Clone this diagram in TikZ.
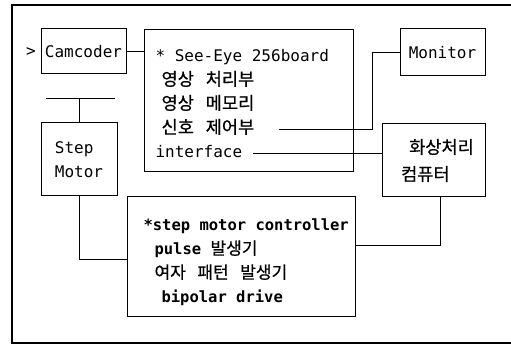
\documentclass[tikz,border=0pt]{standalone}
\usepackage{fontspec}
\setmainfont{DejaVu Sans Mono}
\newfontfamily\kr{Noto Sans CJK KR}[Scale=1.1, FakeBold=0.6, WordSpace=3]
\usepackage{tikz}
\usetikzlibrary{matrix, positioning}

\begin{document}
\begin{tikzpicture}[
        x=1pt, y=-1pt,
        txt/.style={font=\fontsize{16}{24}\selectfont},
        box/.style={draw, line width=1pt, inner sep=0pt, txt},
        lines/.style={matrix of nodes, row sep=5pt, column 1/.style={anchor=base west}, nodes={inner sep=0pt, text height=14pt, text depth=5pt, txt}},
        wire/.style={line width=1pt}
    ]
    \useasboundingbox (0,0) rectangle (511,344);
    % outer frame, open at the right
    \draw[line width=1.2pt] (511,5) -- (12,5) -- (12,343) -- (511,343);

    \node[box, minimum width=85pt, minimum height=45pt] (cam) at (83.5,51.5) {Camcoder};
    \node[txt, inner sep=0pt] (inmark) at (31,52) {>};
    \node[box, minimum width=209pt, minimum height=142pt] (board) at (248.5,101) {};
    \matrix (brd) [lines, anchor=north west] at (152,44) {
        * See-Eye 256board \\
        \hspace{6pt}{\kr 영상 처리부} \\
        \hspace{6pt}{\kr 영상 메모리} \\
        \hspace{6pt}{\kr 신호 제어부} \\
        interface \\
    };
    \node[box, minimum width=85pt, minimum height=47pt] (mon) at (442.5,52.5) {Monitor};
    \node[box, minimum width=103pt, minimum height=73pt, align=left] (pc) at (433.5,160.5) {\hspace*{16pt}{\kr 화상처리}\\[3pt]\hspace*{8pt}{\kr 컴퓨터}};
    \node[box, minimum width=76pt, minimum height=73pt, align=left] (step) at (79,159.5) {Step\\Motor};
    \node[box, minimum width=228pt, minimum height=120pt] (ctrl) at (241,257) {};
    \matrix (drv) [lines, anchor=north west, nodes={font=\bfseries\fontsize{15.5}{24}\selectfont}] at (140,213) {
        *step motor controller \\
        \hspace{11pt}pulse {\kr\mdseries 발생기} \\
        \hspace{11pt}{\kr\mdseries 여자 패턴 발생기} \\
        \hspace{18pt}bipolar drive \\
    };

    \coordinate (rail) at (79,99);
    \coordinate (bend) at (372,0);
    \draw[wire] (cam.east) -- (cam.east -| board.west);
    \draw[wire] ([xshift=-33pt]rail) -- ([xshift=36pt]rail);
    \draw[wire] (rail) -- (step.north);
    \draw[wire] (step.south) |- ([yshift=-3pt]ctrl.west);
    \draw[wire] ([xshift=6.5pt]pc.south) |- ([yshift=11pt]ctrl.east);
    \draw[wire] ([xshift=24pt]brd-4-1.east) -| (bend |- mon.west) -- (mon.west);
    \draw[wire] ([xshift=11pt]brd-5-1.east) -- (brd-5-1.east -| pc.west);
\end{tikzpicture}
\end{document}
